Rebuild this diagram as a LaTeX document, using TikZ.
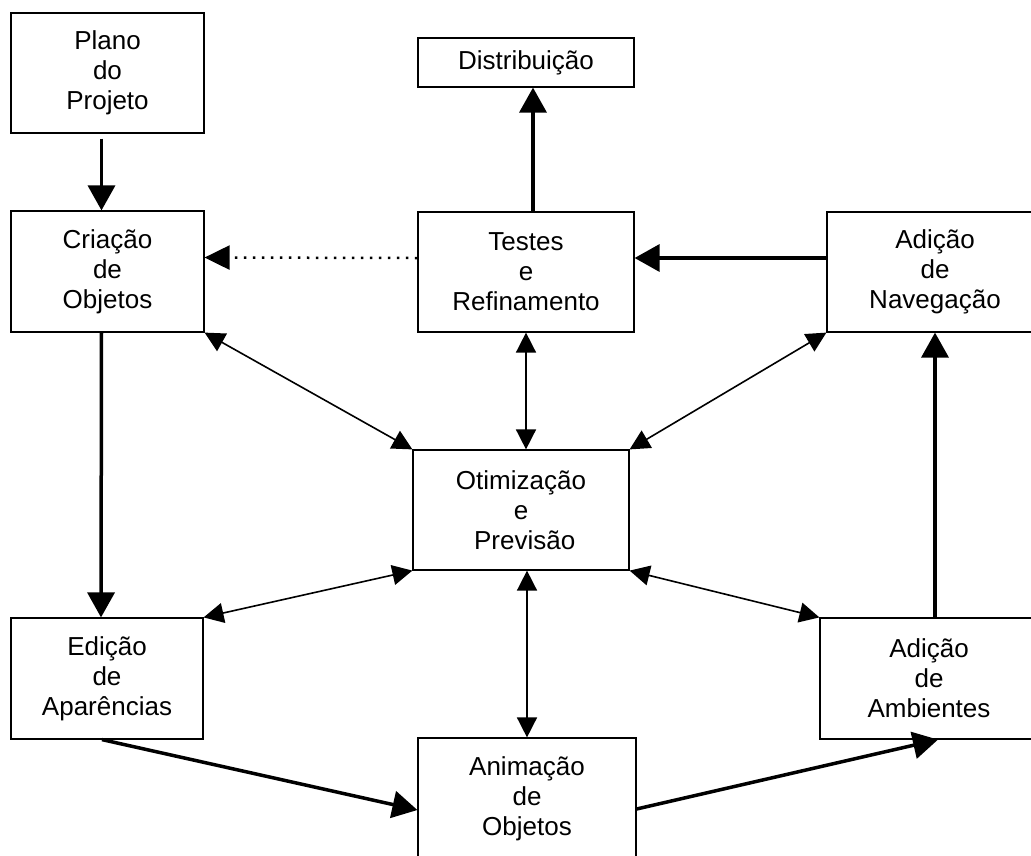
\documentclass[tikz,border=0pt]{standalone}
\usepackage{fontspec}
\setmainfont{Liberation Sans}
\usetikzlibrary{arrows.meta}
\begin{document}
\begin{tikzpicture}[x=1pt,y=-1pt,
  box/.style={draw, line width=1.2pt, inner sep=0pt, align=center,
    font=\fontsize{26}{30}\selectfont},
  flow/.style={line width=3.5pt, -{Triangle[length=25pt,width=27pt]}},
  link/.style={line width=1.6pt, {Triangle[length=20pt,width=20pt]}-{Triangle[length=20pt,width=20pt]}},
  back/.style={line width=2.5pt, dash pattern=on 2.5pt off 6.5pt,
    -{Triangle[length=25pt,width=24pt]}}
]
\clip (0,0) rectangle (1031,855);

% process boxes
\node[box, minimum width=193pt, minimum height=120pt] (plano)   at (107.5,73)   {Plano\\do\\Projeto};
\node[box, minimum width=216pt, minimum height=49pt]  (dist)    at (526,62.5)   {Distribuição};
\node[box, minimum width=193pt, minimum height=121pt] (criacao) at (107.5,271.5){Criação\\de\\Objetos};
\node[box, minimum width=216pt, minimum height=120pt] (testes)  at (526,272)    {Testes\\e\\Refinamento};
\node[box, minimum width=216pt, minimum height=120pt] (nav)     at (935,272)    {Adição\\de\\Navegação};
\node[box, minimum width=216pt, minimum height=120pt] (otim)    at (521,510)    {Otimização\\e\\\hspace*{0.28em}Previsão};
\node[box, minimum width=192pt, minimum height=121pt] (edicao)  at (107,678.5)  {Edição\\de\\Aparências};
\node[box, minimum width=218pt, minimum height=121pt] (amb)     at (929,678.5)  {Adição\\de\\Ambientes};
\node[box, minimum width=218pt, minimum height=121pt] (anim)    at (527,798.5)  {Animação\\de\\Objetos};

% main flow
\draw[flow, shorten <=5pt] ([xshift=-6pt]plano.south) -- ([xshift=-6pt]criacao.north);
\draw[flow] ([xshift=-6pt]criacao.south) -- ([xshift=-6pt]edicao.north);
\draw[flow] ([xshift=-5pt]edicao.south) -- ([yshift=-11.5pt]anim.west);
\draw[flow] ([yshift=-10.5pt]anim.east) -- ([xshift=9pt]amb.south);
\draw[flow] (nav.south |- amb.north) -- (nav.south);
\draw[flow] ([yshift=14pt]nav.west) -- ([yshift=14pt]testes.east);
\coordinate (tt) at ([xshift=7pt]testes.north);
\coordinate (dd) at (tt |- dist.south);
\draw[flow] (tt) -- (dd);

% return path
\draw[back] ([yshift=14pt]testes.west) -- ([yshift=14pt]criacao.east);

% links to the optimisation step
\draw[link] (criacao.south east) -- (otim.north west);
\draw[link] (testes.south) -- (testes.south |- otim.north);
\draw[link] (nav.south west) -- (otim.north east);
\draw[link] (edicao.north east) -- (otim.south west);
\draw[link] (otim.south -| anim.north) -- (anim.north);
\draw[link] (amb.north west) -- (otim.south east);
\end{tikzpicture}
\end{document}
